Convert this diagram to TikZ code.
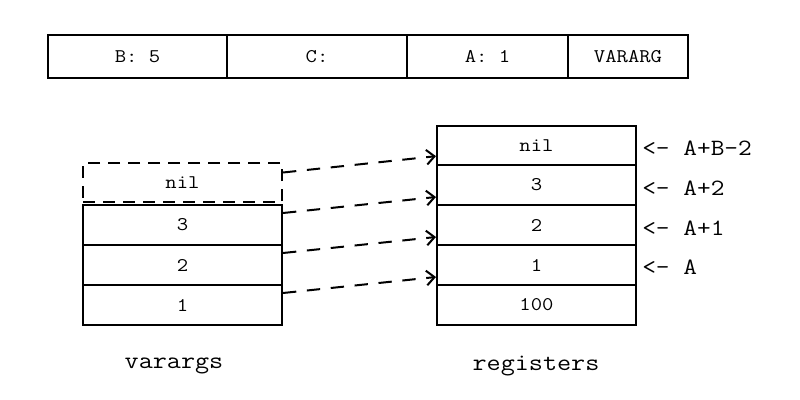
\documentclass[tikz,border=0pt]{standalone}
\usepackage{fontspec}
\setmonofont[FakeStretch=1.14]{Latin Modern Mono}
\usetikzlibrary{arrows.meta}
\tikzset{
  cell/.style={draw, line width=1.5pt, minimum height=32.25pt, inner sep=0pt, font=\ttfamily\fontsize{14.5}{17}\selectfont},
  stk/.style={draw, line width=1.5pt, minimum width=149.25pt, minimum height=30pt, inner sep=0pt, font=\ttfamily\fontsize{14.5}{17}\selectfont},
  ghost/.style={stk, dash pattern=on 9pt off 6pt, minimum height=29.25pt},
  lbl/.style={anchor=west, inner sep=0pt, font=\ttfamily\fontsize{17.5}{20}\selectfont},
  captext/.style={inner sep=0pt, font=\ttfamily\fontsize{18}{21}\selectfont},
  link/.style={line width=1.5pt, dash pattern=on 10pt off 8pt, -{Straight Barb[length=6pt,width=11pt,line width=1.5pt]}}
}
\begin{document}
\begin{tikzpicture}[x=0.75pt,y=-0.75pt]
\useasboundingbox (0,0) rectangle (800,400);
% top bar
\node[cell, minimum width=134.25pt] (tb) at (137.5,56.5) {B: 5};
\node[cell, minimum width=135pt] (tc) at (317,56.5) {C:};
\node[cell, minimum width=120.75pt] (ta) at (487.5,56.5) {A: 1};
\node[cell, minimum width=90pt] (tv) at (628,56.5) {VARARG};
% varargs stack
\node[ghost] (v0) at (182.5,182.5) {nil};
\node[stk] (v1) at (182.5,225) {3};
\node[stk] (v2) at (182.5,265) {2};
\node[stk] (v3) at (182.5,305) {1};
% registers
\node[stk, minimum height=29.25pt] (r0) at (536.5,145.5) {nil};
\node[stk] (r1) at (536.5,185) {3};
\node[stk] (r2) at (536.5,225) {2};
\node[stk] (r3) at (536.5,265) {1};
\node[stk] (r4) at (536.5,305) {100};
% labels
\node[lbl] (l0) at (642,148) {<- A+B-2};
\node[lbl] (l1) at (642,188) {<- A+2};
\node[lbl] (l2) at (642,228) {<- A+1};
\node[lbl] (l3) at (642,267) {<- A};
\node[captext] (cv) at (174,366) {varargs};
\node[captext] (cr) at (536,366) {registers};
% arrows
\draw[link] ([yshift=7.5pt]v0.east) -- ([yshift=-8pt]r0.west);
\draw[link] ([yshift=9pt]v1.east) -- ([yshift=-9pt]r1.west);
\draw[link] ([yshift=9pt]v2.east) -- ([yshift=-9pt]r2.west);
\draw[link] ([yshift=9pt]v3.east) -- ([yshift=-9pt]r3.west);
\end{tikzpicture}
\end{document}
